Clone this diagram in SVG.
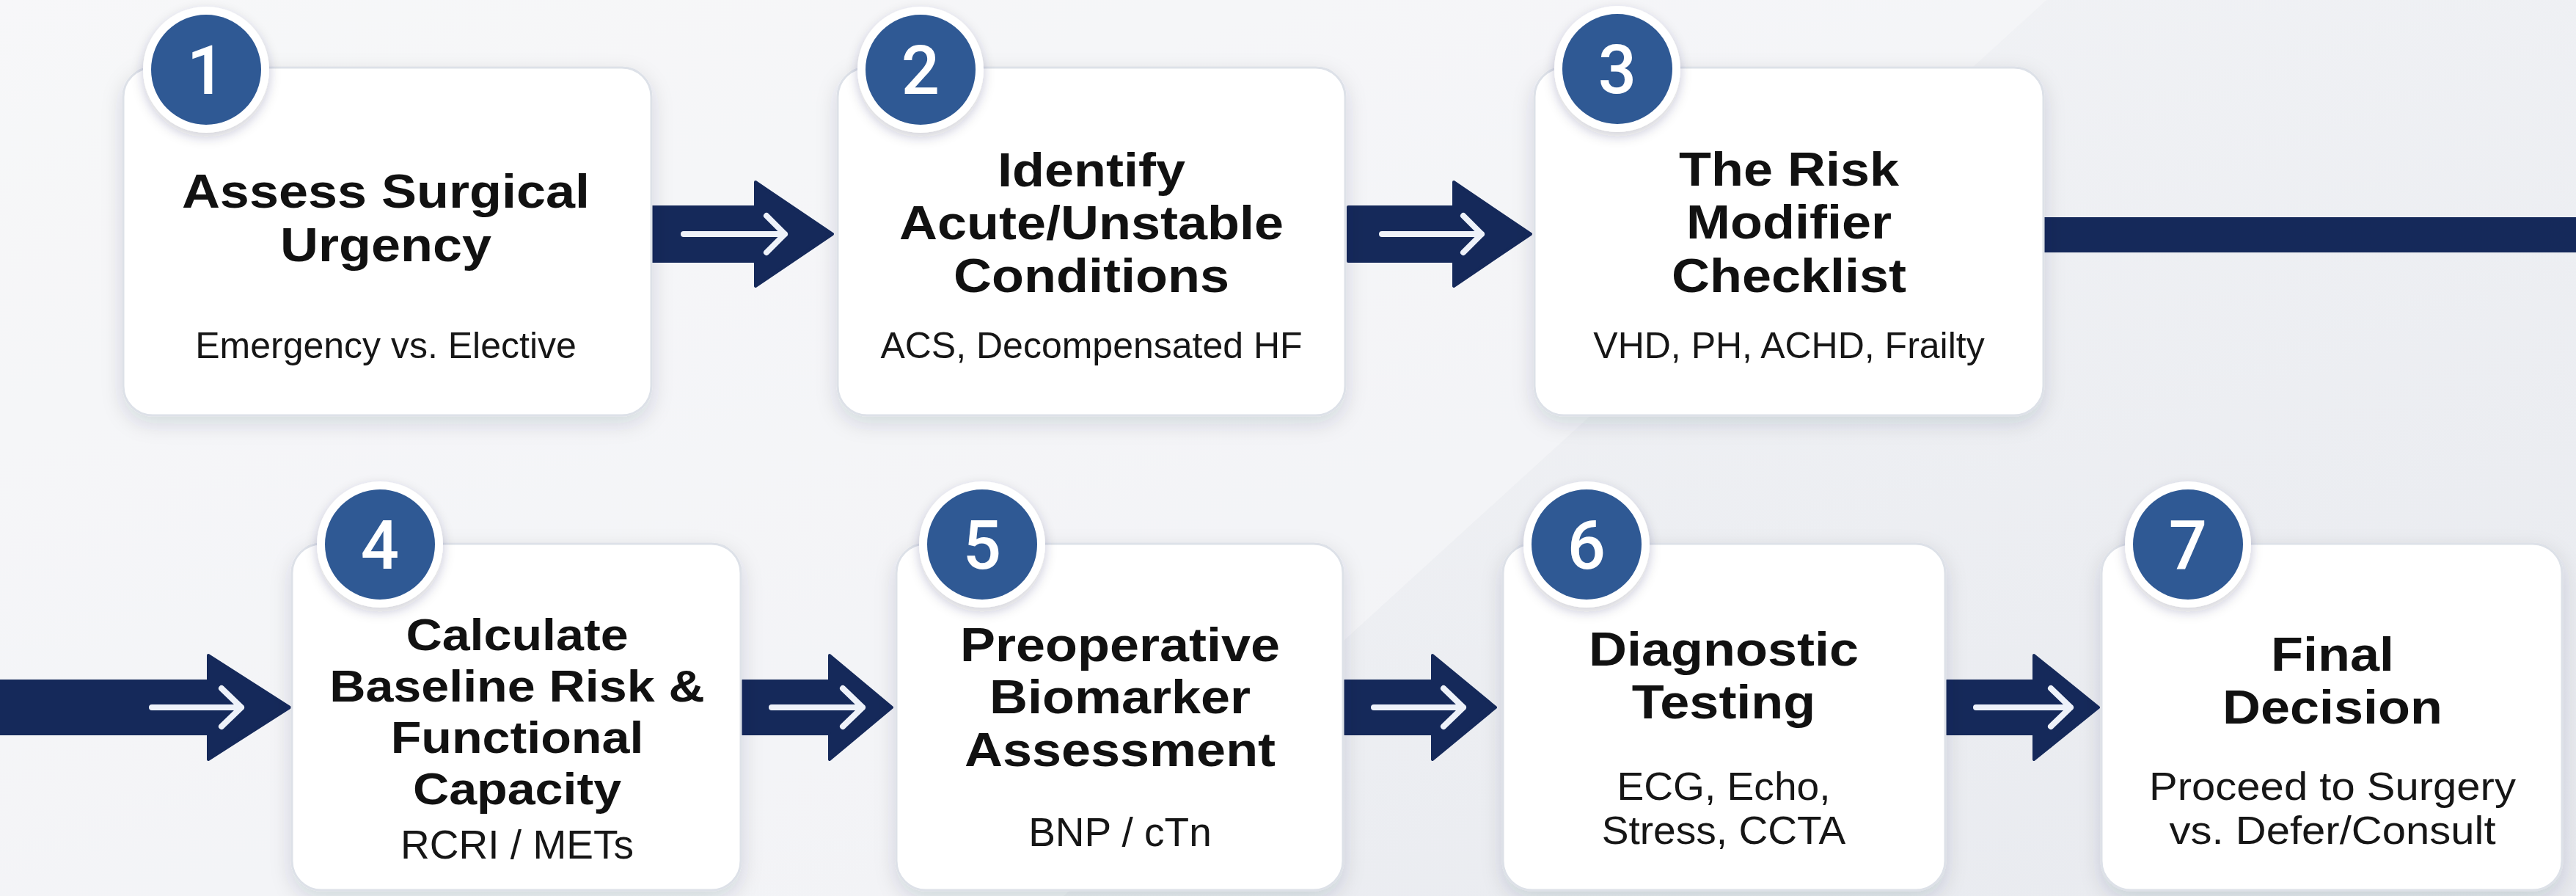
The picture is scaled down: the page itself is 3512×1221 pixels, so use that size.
<svg xmlns="http://www.w3.org/2000/svg" width="3512" height="1221" viewBox="0 0 3512 1221">
<defs>
<linearGradient id="bg" x1="0" y1="0" x2="1" y2="1">
<stop offset="0" stop-color="#f5f6f8"/>
<stop offset="1" stop-color="#e8eaef"/>
</linearGradient>
<filter id="sh" x="-10%" y="-10%" width="120%" height="130%">
<feDropShadow dx="0" dy="10" stdDeviation="14" flood-color="#1c2a4a" flood-opacity="0.14"/>
</filter>
<filter id="shc" x="-30%" y="-30%" width="160%" height="160%">
<feDropShadow dx="0" dy="6" stdDeviation="8" flood-color="#1c2a4a" flood-opacity="0.22"/>
</filter>
<style>
.box{fill:#ffffff;stroke:#dde1e8;stroke-width:3;filter:url(#sh)}
.ring{fill:#ffffff;filter:url(#shc)}
.badge{fill:#2f5994}
.num{font-family:Roboto,"Liberation Sans",Arial,sans-serif;font-weight:500;font-size:92px;fill:#ffffff;text-anchor:middle}
.t{font-family:"Liberation Sans",Arial,sans-serif;font-weight:bold;font-size:64px;fill:#111111;text-anchor:middle}
.t4{font-size:62px}
.s{font-family:"Liberation Sans",Arial,sans-serif;font-weight:normal;font-size:50px;fill:#161616;text-anchor:middle}
.s2{font-size:55px}
.s3{font-size:53px}
.arr{fill:#15295a;stroke:#15295a;stroke-width:4;stroke-linejoin:round}
.in{fill:none;stroke:#eef2fa;stroke-width:8;stroke-linecap:round;stroke-linejoin:round}
</style>
</defs>
<rect x="0" y="0" width="3512" height="1221" fill="url(#bg)"/>
<polygon points="0,0 2790,0 1450,1221 0,1221" fill="#f7f8fa" opacity="0.55"/>

<g id="connectors">
<path class="arr" d="M888,282 H1030 V248 L1135,319 L1030,390 V356 H888 Z"/>
<path class="in" d="M932,319 H1070 M1045,294 L1070,319 L1045,344"/>
<path class="arr" d="M1838,282 H1982 V248 L2087,319 L1982,390 V356 H1838 Z"/>
<path class="in" d="M1884,319 H2020 M1995,294 L2020,319 L1995,344"/>
<rect x="2786" y="296" width="730" height="48" fill="#15295a"/>
<path class="arr" d="M-10,928 H284 V893 L395,964 L284,1035 V1000 H-10 Z"/>
<path class="in" d="M207,964 H329 M302,938 L329,964 L302,990"/>
<path class="arr" d="M1012,928 H1131 V893 L1216,964 L1131,1035 V1000 H1012 Z"/>
<path class="in" d="M1052,964 H1176 M1149,938 L1176,964 L1149,990"/>
<path class="arr" d="M1833,928 H1953 V893 L2039,964 L1953,1035 V1000 H1833 Z"/>
<path class="in" d="M1873,964 H1995 M1968,938 L1995,964 L1968,990"/>
<path class="arr" d="M2654,928 H2773 V893 L2861,964 L2773,1035 V1000 H2654 Z"/>
<path class="in" d="M2694,964 H2823 M2796,938 L2823,964 L2796,990"/>
</g>

<g id="node1">
<rect class="box" x="168" y="92" width="720" height="474" rx="40"/>
<circle class="ring" cx="281" cy="95" r="86"/>
<circle class="badge" cx="281" cy="95" r="75"/>
<text class="num" x="281" y="128">1</text>
<text class="t" transform="translate(526 0) scale(1.125 1)" x="0" y="283">Assess Surgical</text>
<text class="t" transform="translate(526 0) scale(1.125 1)" x="0" y="356">Urgency</text>
<text class="s" x="526" y="488">Emergency vs. Elective</text>
</g>

<g id="node2">
<rect class="box" x="1142" y="92" width="692" height="474" rx="40"/>
<circle class="ring" cx="1255" cy="95" r="86"/>
<circle class="badge" cx="1255" cy="95" r="75"/>
<text class="num" x="1255" y="128">2</text>
<text class="t" transform="translate(1488 0) scale(1.125 1)" x="0" y="254">Identify</text>
<text class="t" transform="translate(1488 0) scale(1.125 1)" x="0" y="326">Acute/Unstable</text>
<text class="t" transform="translate(1488 0) scale(1.125 1)" x="0" y="398">Conditions</text>
<text class="s" x="1488" y="488">ACS, Decompensated HF</text>
</g>

<g id="node3">
<rect class="box" x="2092" y="92" width="694" height="474" rx="40"/>
<circle class="ring" cx="2205" cy="94" r="86"/>
<circle class="badge" cx="2205" cy="94" r="75"/>
<text class="num" x="2205" y="127">3</text>
<text class="t" transform="translate(2439 0) scale(1.125 1)" x="0" y="253">The Risk</text>
<text class="t" transform="translate(2439 0) scale(1.125 1)" x="0" y="325">Modifier</text>
<text class="t" transform="translate(2439 0) scale(1.125 1)" x="0" y="398">Checklist</text>
<text class="s" x="2439" y="488">VHD, PH, ACHD, Frailty</text>
</g>

<g id="node4">
<rect class="box" x="398" y="741" width="612" height="472" rx="40"/>
<circle class="ring" cx="518" cy="742" r="86"/>
<circle class="badge" cx="518" cy="742" r="75"/>
<text class="num" x="518" y="775">4</text>
<text class="t t4" transform="translate(705 0) scale(1.1 1)" x="0" y="886">Calculate</text>
<text class="t t4" transform="translate(705 0) scale(1.1 1)" x="0" y="956">Baseline Risk &amp;</text>
<text class="t t4" transform="translate(705 0) scale(1.1 1)" x="0" y="1026">Functional</text>
<text class="t t4" transform="translate(705 0) scale(1.1 1)" x="0" y="1096">Capacity</text>
<text class="s s2" x="705" y="1170">RCRI / METs</text>
</g>

<g id="node5">
<rect class="box" x="1222" y="741" width="609" height="472" rx="40"/>
<circle class="ring" cx="1339" cy="742" r="86"/>
<circle class="badge" cx="1339" cy="742" r="75"/>
<text class="num" x="1339" y="775">5</text>
<text class="t" transform="translate(1527 0) scale(1.125 1)" x="0" y="901">Preoperative</text>
<text class="t" transform="translate(1527 0) scale(1.125 1)" x="0" y="972">Biomarker</text>
<text class="t" transform="translate(1527 0) scale(1.125 1)" x="0" y="1044">Assessment</text>
<text class="s s2" x="1527" y="1153">BNP / cTn</text>
</g>

<g id="node6">
<rect class="box" x="2049" y="741" width="603" height="472" rx="40"/>
<circle class="ring" cx="2163" cy="742" r="86"/>
<circle class="badge" cx="2163" cy="742" r="75"/>
<text class="num" x="2163" y="775">6</text>
<text class="t" transform="translate(2350 0) scale(1.125 1)" x="0" y="907">Diagnostic</text>
<text class="t" transform="translate(2350 0) scale(1.125 1)" x="0" y="979">Testing</text>
<text class="s s3" transform="translate(2350 0) scale(1.04 1)" x="0" y="1090">ECG, Echo,</text>
<text class="s s3" transform="translate(2350 0) scale(1.04 1)" x="0" y="1150">Stress, CCTA</text>
</g>

<g id="node7">
<rect class="box" x="2865" y="741" width="628" height="472" rx="40"/>
<circle class="ring" cx="2983" cy="742" r="86"/>
<circle class="badge" cx="2983" cy="742" r="75"/>
<text class="num" x="2983" y="775">7</text>
<text class="t" transform="translate(3180 0) scale(1.125 1)" x="0" y="914">Final</text>
<text class="t" transform="translate(3180 0) scale(1.125 1)" x="0" y="986">Decision</text>
<text class="s s3" transform="translate(3180 0) scale(1.095 1)" x="0" y="1090">Proceed to Surgery</text>
<text class="s s3" transform="translate(3180 0) scale(1.095 1)" x="0" y="1150">vs. Defer/Consult</text>
</g>
</svg>
